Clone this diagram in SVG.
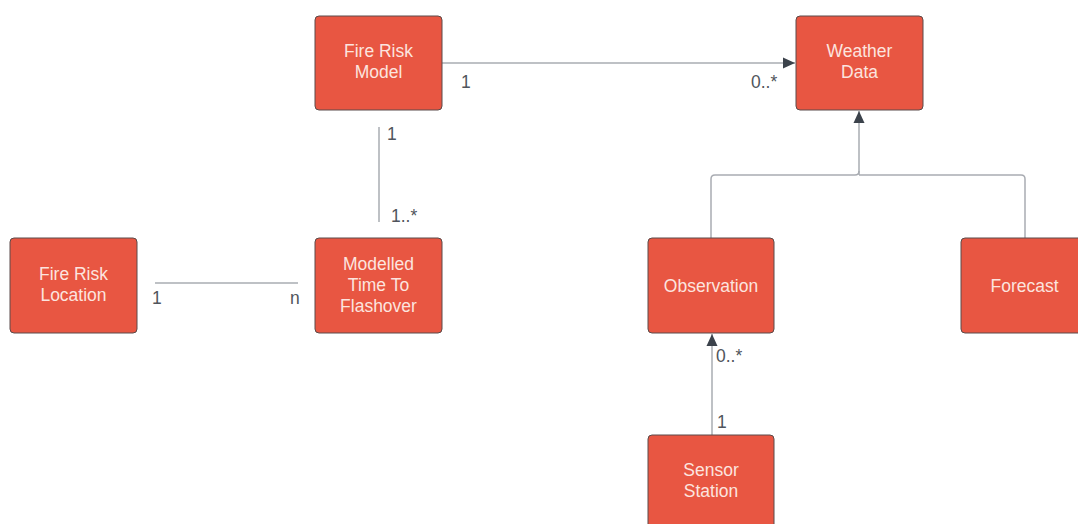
<svg xmlns="http://www.w3.org/2000/svg" width="1078" height="524" viewBox="0 0 1078 524">
  <style>
    .box { fill: #E85642; stroke: #5A4B4A; stroke-width: 1; }
    .lbl { font-family: "Liberation Sans", Arial, sans-serif; font-size: 17.5px; fill: #FCE4DF; text-anchor: middle; }
    .card { font-family: "Liberation Sans", Arial, sans-serif; font-size: 17.5px; fill: #50555C; }
    .edge { fill: none; stroke: #A9ACB2; stroke-width: 1.5; }
  </style>
  <defs>
    <marker id="arrow" markerWidth="13" markerHeight="13" refX="12" refY="6.5" orient="auto" markerUnits="userSpaceOnUse">
      <path d="M0,1 L12,6.5 L0,12 Z" fill="#3B424B"/>
    </marker>
  </defs>
  <rect width="1078" height="524" fill="#FFFFFF"/>

  <g id="connectors">
    <!-- Fire Risk Model to Weather Data -->
    <line class="edge" x1="442" y1="63" x2="795" y2="63" marker-end="url(#arrow)"/>
    <text class="card" x="461" y="88">1</text>
    <text class="card" x="751" y="88">0..*</text>
    <!-- Fire Risk Model to Modelled Time To Flashover -->
    <line class="edge" x1="379" y1="127" x2="379" y2="222"/>
    <text class="card" x="387" y="140">1</text>
    <text class="card" x="391" y="222">1..*</text>
    <!-- Fire Risk Location to Modelled Time To Flashover -->
    <line class="edge" x1="155" y1="283" x2="298" y2="283"/>
    <text class="card" x="152" y="304">1</text>
    <text class="card" x="290" y="304">n</text>
    <!-- Generalisation: Observation / Forecast to Weather Data -->
    <path class="edge" d="M711,238 L711,179 Q711,175 715,175 L855,175 Q859,175 859,171 M859,175 Q859,175 863,175 L1021,175 Q1025,175 1025,179 L1025,238"/>
    <line class="edge" x1="859" y1="175" x2="859" y2="111" marker-end="url(#arrow)"/>
    <!-- Sensor Station to Observation -->
    <line class="edge" x1="712" y1="435" x2="712" y2="334" marker-end="url(#arrow)"/>
    <text class="card" x="716" y="362">0..*</text>
    <text class="card" x="717" y="428">1</text>
  </g>

  <g id="fire-risk-model">
    <rect class="box" x="315" y="16" width="127" height="94" rx="4"/>
    <text class="lbl" x="378.5" y="57">Fire Risk</text>
    <text class="lbl" x="378.5" y="78">Model</text>
  </g>
  <g id="weather-data">
    <rect class="box" x="796" y="16" width="127" height="94" rx="4"/>
    <text class="lbl" x="859.5" y="57">Weather</text>
    <text class="lbl" x="859.5" y="78">Data</text>
  </g>
  <g id="fire-risk-location">
    <rect class="box" x="10" y="238" width="127" height="95" rx="4"/>
    <text class="lbl" x="73.5" y="280">Fire Risk</text>
    <text class="lbl" x="73.5" y="301">Location</text>
  </g>
  <g id="modelled-time-to-flashover">
    <rect class="box" x="315" y="238" width="127" height="95" rx="4"/>
    <text class="lbl" x="378.5" y="270">Modelled</text>
    <text class="lbl" x="378.5" y="291">Time To</text>
    <text class="lbl" x="378.5" y="312">Flashover</text>
  </g>
  <g id="observation">
    <rect class="box" x="648" y="238" width="126" height="95" rx="4"/>
    <text class="lbl" x="711" y="292">Observation</text>
  </g>
  <g id="forecast">
    <rect class="box" x="961" y="238" width="127" height="95" rx="4"/>
    <text class="lbl" x="1024.5" y="292">Forecast</text>
  </g>
  <g id="sensor-station">
    <rect class="box" x="648" y="435" width="126" height="95" rx="4"/>
    <text class="lbl" x="711" y="476">Sensor</text>
    <text class="lbl" x="711" y="497">Station</text>
  </g>
</svg>
